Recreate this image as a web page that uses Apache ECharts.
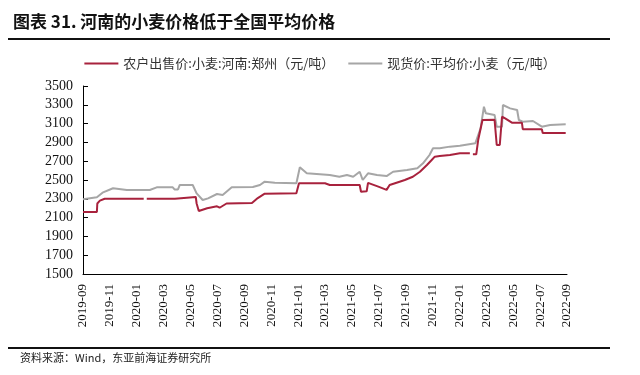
<!DOCTYPE html>
<html><head><meta charset="utf-8">
<script src="https://cdn.jsdelivr.net/npm/echarts@6/dist/echarts.min.js"></script>
<style>html,body{margin:0;padding:0;background:#fff}#c{width:640px;height:375px}</style>
</head><body><div id="c"></div>
<script>
const titleText = '图表 31. 河南的小麦价格低于全国平均价格';
const sourceText = '资料来源：Wind，东亚前海证券研究所';
const seriesNames = ['农户出售价:小麦:河南:郑州（元/吨）', '现货价:平均价:小麦（元/吨）'];
const xTickLabels = ['2019-09','2019-11','2020-01','2020-03','2020-05','2020-07','2020-09','2020-11','2021-01','2021-03','2021-05','2021-07','2021-09','2021-11','2022-01','2022-03','2022-05','2022-07','2022-09'];
const yTicks = [1500,1700,1900,2100,2300,2500,2700,2900,3100,3300,3500];

const henanDates = ['2019-09-01','2019-10-02','2019-10-03','2019-10-09','2019-10-20','2020-01-17','2020-01-20','2020-01-24','2020-03-27','2020-03-30','2020-05-13','2020-05-15','2020-05-20','2020-06-08','2020-06-30','2020-07-06','2020-07-22','2020-09-18','2020-10-01','2020-10-17','2020-12-28','2021-01-03','2021-03-01','2021-03-12','2021-05-19','2021-05-22','2021-06-04','2021-06-07','2021-06-30','2021-07-19','2021-07-26','2021-08-18','2021-08-30','2021-09-17','2021-10-03','2021-10-19','2021-10-30','2021-11-06','2021-11-17','2021-12-10','2022-01-02','2022-01-25','2022-01-28','2022-02-01','2022-02-08','2022-02-12','2022-02-21','2022-03-20','2022-03-25','2022-04-01','2022-04-06','2022-04-13','2022-04-28','2022-05-21','2022-05-23','2022-07-05','2022-07-07','2022-08-29'];
const henanValues = [2160,2160,2250,2280,2300,2300,null,2300,2300,2320,2320,2250,2170,2200,2220,2205,2250,2255,2308,2355,2358,2465,2465,2447,2447,2375,2380,2470,2430,2395,2447,2482,2500,2535,2588,2660,2713,2748,2755,2766,2784,2784,null,2773,2773,2925,3138,3140,2872,2872,3173,3156,3110,3110,3040,3040,3000,3000];

const avgDates = ['2019-09-01','2019-10-02','2019-10-15','2019-11-08','2019-12-09','2020-01-31','2020-02-15','2020-03-22','2020-03-26','2020-04-03','2020-04-07','2020-05-06','2020-05-15','2020-05-29','2020-06-10','2020-06-30','2020-07-13','2020-08-03','2020-09-20','2020-10-06','2020-10-17','2020-11-09','2020-12-28','2021-01-05','2021-01-21','2021-03-12','2021-04-03','2021-04-20','2021-05-04','2021-05-19','2021-05-26','2021-06-07','2021-06-27','2021-07-19','2021-08-03','2021-09-04','2021-09-27','2021-10-10','2021-10-25','2021-11-02','2021-11-17','2021-12-10','2022-01-02','2022-02-06','2022-02-17','2022-02-24','2022-02-28','2022-03-20','2022-03-25','2022-04-06','2022-04-08','2022-04-24','2022-05-10','2022-05-14','2022-05-23','2022-06-15','2022-07-05','2022-07-24','2022-08-29'];
const avgValues = [2295,2316,2365,2412,2394,2394,2422,2422,2400,2400,2447,2447,2358,2287,2305,2351,2340,2422,2425,2447,2482,2471,2465,2635,2571,2553,2535,2553,2535,2588,2500,2571,2553,2542,2588,2606,2624,2677,2766,2837,2837,2855,2865,2890,3050,3280,3209,3191,3067,3067,3298,3262,3245,3138,3120,3128,3067,3085,3093];

function monthIndex(s){
  const [y,m,d] = s.split('-').map(Number);
  const dim = new Date(y, m, 0).getDate();
  return (y-2019)*12 + (m-9) + (d-1)/dim;
}
function pairs(dates, vals){ return dates.map((d,i)=>[monthIndex(d), vals[i]]); }

const serifFont = '"Liberation Serif","Times New Roman",serif';
const cjkFont = '"Noto Sans CJK SC",sans-serif';

const chart = echarts.init(document.getElementById('c'));
chart.setOption({
  animation:false,
  backgroundColor:'#fff',
  title:{text:titleText,left:8,top:8,textStyle:{fontFamily:cjkFont,fontSize:17,fontWeight:'bold',color:'#111'}},
  legend:{top:52,left:'center',itemWidth:34,itemHeight:2,itemGap:14,icon:'rect',
    textStyle:{fontFamily:cjkFont,fontSize:13,color:'#333'},
    data:seriesNames},
  grid:{left:83,right:73,top:86,bottom:101,containLabel:false},
  xAxis:{type:'value',min:0,max:36,interval:2,
    axisLine:{show:true,lineStyle:{color:'#000',width:1}},
    axisTick:{show:false},splitLine:{show:false},
    axisLabel:{rotate:90,margin:10,fontFamily:serifFont,fontSize:13,color:'#111',
      formatter:function(v){return xTickLabels[Math.round(v/2)]||'';}}},
  yAxis:{type:'value',min:yTicks[0],max:yTicks[yTicks.length-1],interval:200,
    axisLine:{show:true,lineStyle:{color:'#000',width:1}},
    axisTick:{show:true,inside:true,length:5,lineStyle:{color:'#000'}},
    splitLine:{show:false},
    axisLabel:{margin:10,fontFamily:serifFont,fontSize:14,color:'#111',
      formatter:function(v){return String(v);}}},
  series:[
    {name:seriesNames[0],type:'line',showSymbol:false,connectNulls:false,
      lineStyle:{width:2,color:'#a8223d'},itemStyle:{color:'#a8223d'},
      data:pairs(henanDates,henanValues),z:3},
    {name:seriesNames[1],type:'line',showSymbol:false,
      lineStyle:{width:2,color:'#a6a6a6'},itemStyle:{color:'#a6a6a6'},
      data:pairs(avgDates,avgValues),z:2}
  ],
  graphic:[
    {type:'line',shape:{x1:8,y1:39,x2:610,y2:39},style:{stroke:'#111',lineWidth:2}},
    {type:'line',shape:{x1:8,y1:348,x2:610,y2:348},style:{stroke:'#111',lineWidth:2}},
    {type:'text',left:20,top:352,style:{text:sourceText,font:'11px "Noto Sans CJK SC",sans-serif',fill:'#222'}}
  ]
});
</script></body></html>
